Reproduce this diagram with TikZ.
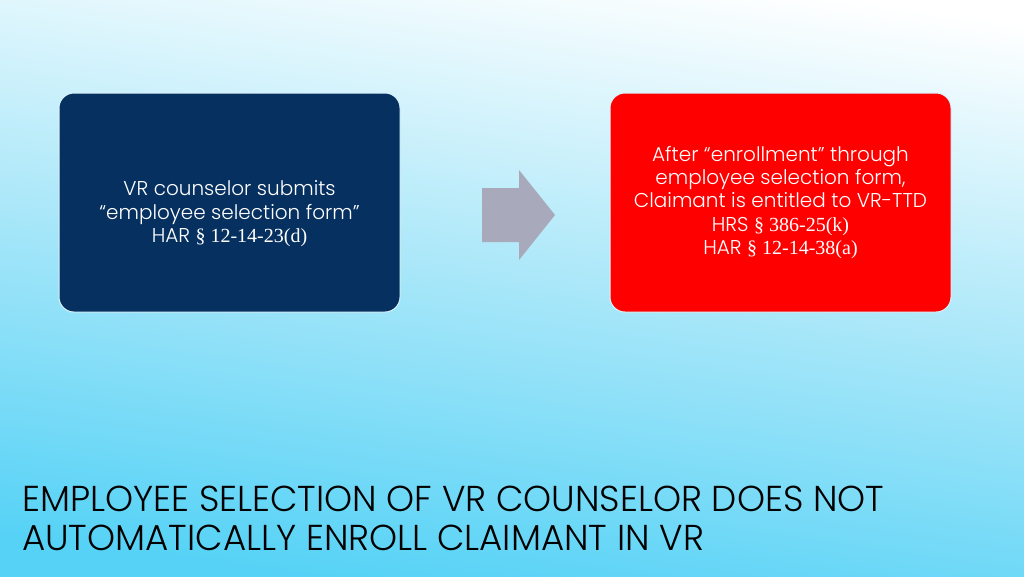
\documentclass[tikz,border=0pt]{standalone}
\usepackage{fontspec}
\setmainfont{Poppins Light}
\newfontfamily\serifpart{Liberation Serif}
\newfontfamily\titlefont[FakeStretch=0.99]{Poppins Light}
\usetikzlibrary{shadings}
\definecolor{navy}{HTML}{06305F}
\definecolor{bred}{HTML}{FE0000}
\definecolor{arrowgrey}{HTML}{A8A9BA}
\definecolor{skyA}{HTML}{FFFFFF}
\definecolor{skyB}{HTML}{A9E7F9}
\definecolor{skyC}{HTML}{55D2F6}
\tikzset{
  card/.style={rounded corners=15pt, draw=white!85!cyan, line width=1pt, minimum width=341pt, minimum height=219pt, text=white, inner sep=0pt},
  cardtext/.style={align=center, text=white, font=\fontsize{20}{23.4}\selectfont, inner sep=0pt},
  heading/.style={anchor=base west, align=left, font=\titlefont\fontsize{36}{39}\selectfont, text=black, inner sep=0pt}
}
\newcommand{\sr}[1]{{\serifpart #1}}
\begin{document}
\begin{tikzpicture}[x=1pt,y=-1pt]
\useasboundingbox (0,0) rectangle (1024,576);
\begin{scope}
\clip (0,0) rectangle (1024,576);
\shade[top color=skyA, bottom color=skyC, middle color=skyB, shading angle=-8] (0,-20) rectangle (1024,580);
\end{scope}
\node[card, fill=navy] (left) at (229.5,202.5) {};
\node[cardtext] (lefttext) at (229.5,214) {VR counselor submits\\``employee selection form''\\HAR \sr{§ 12-14-23(d)}};
\node[card, fill=bred] (right) at (780.5,202.5) {};
\node[cardtext] (righttext) at (780.5,202.5) {After ``enrollment'' through\\employee selection form,\\Claimant is entitled to VR-TTD\\HRS \sr{§ 386-25(k)}\\HAR \sr{§ 12-14-38(a)}};
\fill[arrowgrey] (482,188) -- (519,188) -- (519,170) -- (555,215) -- (519,260) -- (519,242) -- (482,242) -- cycle;
\node[heading] (title) at (22,511) {EMPLOYEE SELECTION OF VR COUNSELOR DOES NOT};
\node[heading] (title2) at (22,550) {AUTOMATICALLY ENROLL CLAIMANT IN VR};
\end{tikzpicture}
\end{document}
